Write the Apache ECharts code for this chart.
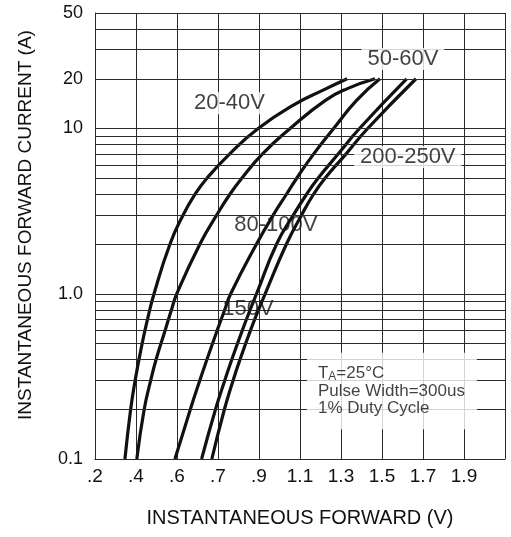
<!DOCTYPE html>
<html><head><meta charset="utf-8">
<script src="https://cdn.jsdelivr.net/npm/echarts@6/dist/echarts.min.js"></script>
<style>html,body{margin:0;padding:0;background:#fff}#c{width:511px;height:537px}</style>
</head><body><div id="c"></div>
<script>
// x axis: grid-division index (0..10); printed tick labels as on the original sheet
const xTickLabels = ['.2', '.4', '.6', '.7', '.9', '1.1', '1.3', '1.5', '1.7', '1.9', ''];
// y axis (log): labelled values and grid-line values
const yTickValues = [0.1, 1, 10, 20, 50];
const yTickLabels = ['0.1', '1.0', '10', '20', '50'];
const yGridValues = [0.1, 0.2, 0.3, 0.4, 0.5, 0.6, 0.7, 0.8, 0.9, 1, 2, 3, 4, 5, 6, 7, 8, 9, 10, 20, 30, 40, 50];

// curves: forward current (A) vs. position on the x scale
const curve2040A = [0.1, 0.2, 0.3, 0.5, 0.7, 1, 2, 3, 4, 5, 7, 10, 14, 17, 20];
const curve2040X = [0.73, 0.87, 0.98, 1.15, 1.28, 1.44, 1.83, 2.15, 2.44, 2.73, 3.28, 3.98, 4.87, 5.55, 6.15];
const curve5060A = [0.1, 0.2, 0.3, 0.4, 0.6, 0.8, 1, 2, 3, 4, 5, 7, 10, 14.8, 17.5, 20];
const curve5060X = [1.02, 1.20, 1.36, 1.49, 1.71, 1.865, 1.995, 2.56, 2.97, 3.29, 3.58, 4.08, 4.76, 5.62, 6.17, 6.83];
const curve80100A = [0.1, 0.2, 0.3, 0.4, 0.6, 0.8, 1, 2, 3, 4, 5, 7, 10, 14.8, 20];
const curve80100X = [1.95, 2.326, 2.558, 2.73, 2.98, 3.164, 3.31, 3.94, 4.35, 4.67, 4.92, 5.33, 5.82, 6.38, 6.95];
const curve150A = [0.1, 0.2, 0.3, 0.4, 0.6, 0.8, 1, 2, 3, 4, 5, 7, 10, 20];
const curve150X = [2.6, 2.94, 3.167, 3.337, 3.593, 3.784, 3.94, 4.43, 4.84, 5.16, 5.44, 5.93, 6.45, 7.6];
const curve200250A = [0.1, 0.2, 0.3, 0.4, 0.6, 0.8, 1, 2, 3, 4, 5, 7, 10, 20];
const curve200250X = [2.85, 3.157, 3.37, 3.537, 3.792, 3.989, 4.15, 4.67, 5.04, 5.33, 5.61, 6.12, 6.65, 7.83];

// annotation texts and their anchor points (x scale, amps)
const curveNames = ['20-40V', '50-60V', '80-100V', '150V', '200-250V'];
const curveNameX = [3.28, 7.51, 4.41, 3.73, 7.63];
const curveNameA = [14.2, 26.3, 2.61, 0.812, 6.73];
const noteLines = ['T_A=25°C', 'Pulse Width=300us', '1% Duty Cycle'];
const noteX = 5.17, noteA = 0.258;

const FONT = '"Liberation Sans", Arial, Helvetica, sans-serif';
const INK = '#111';
const zip = (xs, ys) => xs.map((x, i) => [x, ys[i]]);
const curves = [
  zip(curve2040X, curve2040A), zip(curve5060X, curve5060A), zip(curve80100X, curve80100A),
  zip(curve150X, curve150A), zip(curve200250X, curve200250A)
];
const withBg = [true, true, false, false, true];

const series = [];
// horizontal grid lines on the log scale
series.push({
  type: 'line', data: [], silent: true,
  markLine: {
    silent: true, symbol: 'none', animation: false, label: { show: false },
    lineStyle: { color: '#2a2a2a', width: 1, type: 'solid' },
    data: yGridValues.map(v => ({ yAxis: v }))
  }
});
curves.forEach((d, i) => series.push({
  type: 'line', name: curveNames[i], data: d, smooth: 0.5,
  symbol: 'none', silent: true, z: 3,
  lineStyle: { color: '#111', width: 3.2 }
}));
series.push({
  type: 'scatter', symbolSize: 0, silent: true, z: 5,
  data: curveNames.map((n, i) => ({
    value: [curveNameX[i], curveNameA[i]],
    label: {
      show: true, position: 'inside', formatter: n,
      color: INK, fontFamily: FONT, fontSize: 22,
      backgroundColor: withBg[i] ? '#fff' : 'transparent',
      padding: withBg[i] ? [0, 6] : 0
    }
  }))
});
series.push({
  type: 'scatter', symbolSize: 0, silent: true, z: 5,
  data: [{
    value: [noteX, noteA],
    label: {
      show: true, position: 'right', distance: 0, align: 'left',
      backgroundColor: '#fff', padding: [12, 12, 12, 11],
      formatter: '{a|T}{s|A}{a|' + noteLines[0].slice(3) + '}\n{a|' + noteLines[1] + '}\n{a|' + noteLines[2] + '}',
      rich: {
        a: { color: INK, fontFamily: FONT, fontSize: 17, lineHeight: 17.5 },
        s: { color: INK, fontFamily: FONT, fontSize: 12, lineHeight: 17.5, verticalAlign: 'bottom', padding: [5, 0, 0, 0] }
      }
    }
  }]
});

const chart = echarts.init(document.getElementById('c'), null, { renderer: 'canvas' });
chart.setOption({
  animation: false,
  backgroundColor: '#fff',
  grid: { left: 95, right: 6, top: 13, bottom: 78 },
  xAxis: {
    type: 'value', min: 0, max: 10, interval: 1,
    name: 'INSTANTANEOUS FORWARD (V)', nameLocation: 'middle', nameGap: 49,
    nameTextStyle: { color: INK, fontFamily: FONT, fontSize: 20 },
    axisLine: { show: true, lineStyle: { color: '#2a2a2a', width: 1 } },
    axisTick: { show: false },
    axisLabel: { color: INK, fontFamily: FONT, fontSize: 19, margin: 8, formatter: v => xTickLabels[Math.round(v)] || '' },
    splitLine: { show: true, lineStyle: { color: '#2a2a2a', width: 1 } }
  },
  yAxis: {
    type: 'log', logBase: 10, min: 0.1, max: 50,
    name: 'INSTANTANEOUS FORWARD CURRENT (A)', nameLocation: 'middle', nameGap: 60,
    nameTextStyle: { color: INK, fontFamily: FONT, fontSize: 19, padding: [0, 0, 0, 22] },
    axisLine: { show: true, lineStyle: { color: '#2a2a2a', width: 1 } },
    axisTick: { show: false },
    axisLabel: {
      color: INK, fontFamily: FONT, fontSize: 18, margin: 12,
      customValues: yTickValues,
      formatter: v => { const i = yTickValues.findIndex(t => Math.abs(t - v) < 1e-9 * Math.max(1, t)); return i >= 0 ? yTickLabels[i] : ''; }
    },
    splitLine: { show: false }
  },
  series
});
</script>
</body></html>
